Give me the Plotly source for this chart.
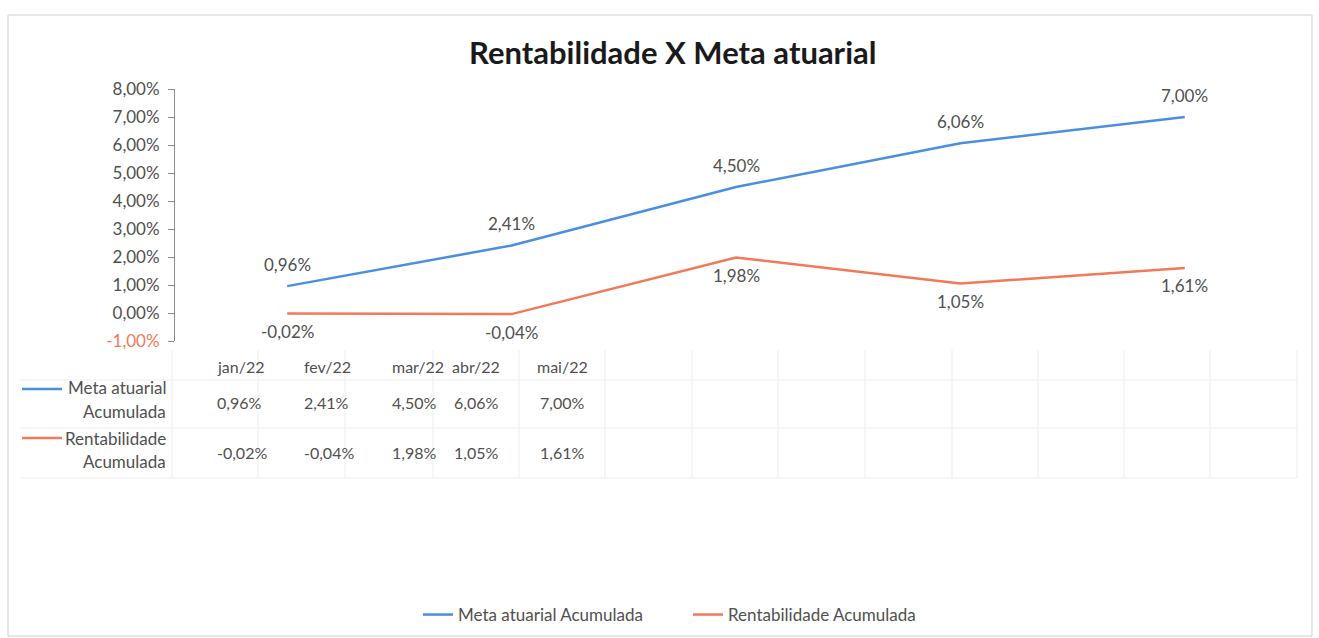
import plotly.graph_objects as go

months = ["jan/22", "fev/22", "mar/22", "abr/22", "mai/22"]
meta = [0.96, 2.41, 4.50, 6.06, 7.00]          # Meta atuarial Acumulada (%)
rent = [-0.02, -0.04, 1.98, 1.05, 1.61]         # Rentabilidade Acumulada (%)
series_names = ["Meta atuarial Acumulada", "Rentabilidade Acumulada"]
ytick_vals = [-1, 0, 1, 2, 3, 4, 5, 6, 7, 8]

W, H = 1319, 638
BLUE = "#4a8fdf"
ORANGE = "#f2785a"
TXT = "#505050"
FONT = "Lato"
FS = 17
FST = 16

def px(x):
    return x / W

def py(y):
    return 1 - y / H

def fmt(v):
    return f"{v:.2f}".replace(".", ",") + "%"

fig = go.Figure()
fig.add_trace(go.Scatter(x=months, y=meta, mode="lines", name=series_names[0],
                         line=dict(color=BLUE, width=2.5)))
fig.add_trace(go.Scatter(x=months, y=rent, mode="lines", name=series_names[1],
                         line=dict(color=ORANGE, width=2.5)))

ann = []
# data labels
for m, v in zip(months, meta):
    ann.append(dict(x=m, y=v, xref="x", yref="y", text=fmt(v), showarrow=False,
                    yshift=22, font=dict(size=FS, color=TXT, family=FONT)))
for m, v in zip(months, rent):
    ann.append(dict(x=m, y=v, xref="x", yref="y", text=fmt(v), showarrow=False,
                    yshift=-18, font=dict(size=FS, color=TXT, family=FONT)))

# title
ann.append(dict(x=px(673), y=py(52), xref="paper", yref="paper", yanchor="middle",
                text="<b>Rentabilidade X Meta atuarial</b>", showarrow=False,
                font=dict(size=31, color="#1a1a1a", family=FONT)))

# table
col_x = [215, 302, 390, 476, 562]
for cx, m in zip(col_x, months):
    ann.append(dict(x=px(cx), y=py(366), xref="paper", yref="paper", text=m,
                    yanchor="middle", showarrow=False,
                    font=dict(size=FST, color=TXT, family=FONT)))
for cx, v in zip(col_x, meta):
    ann.append(dict(x=px(cx), y=py(402), xref="paper", yref="paper", text=fmt(v),
                    yanchor="middle", showarrow=False,
                    font=dict(size=FST, color=TXT, family=FONT)))
for cx, v in zip(col_x, rent):
    ann.append(dict(x=px(cx), y=py(452), xref="paper", yref="paper", text=fmt(v),
                    yanchor="middle", showarrow=False,
                    font=dict(size=FST, color=TXT, family=FONT)))

row_labels = [("Meta atuarial", 388), ("Acumulada", 411),
              ("Rentabilidade", 438), ("Acumulada", 461)]
for t, yy in row_labels:
    ann.append(dict(x=px(168), y=py(yy), xref="paper", yref="paper", text=t,
                    xanchor="right", yanchor="middle", showarrow=False,
                    font=dict(size=FS, color=TXT, family=FONT)))

shapes = []
# outer border
shapes.append(dict(type="rect", xref="paper", yref="paper", x0=px(8), x1=px(1312),
                   y0=py(636), y1=py(15), line=dict(color="#d0d0d0", width=1)))
# table legend keys
shapes.append(dict(type="line", xref="paper", yref="paper", x0=px(22), x1=px(62),
                   y0=py(389), y1=py(389), line=dict(color=BLUE, width=2.5)))
shapes.append(dict(type="line", xref="paper", yref="paper", x0=px(22), x1=px(62),
                   y0=py(438), y1=py(438), line=dict(color=ORANGE, width=2.5)))
# table grid (faint)
GRID = "#ededed"
for xx in [172, 258, 345, 433, 519, 605, 692, 778, 865, 952, 1038, 1124, 1210, 1297]:
    shapes.append(dict(type="line", xref="paper", yref="paper", x0=px(xx), x1=px(xx),
                       y0=py(350), y1=py(478), line=dict(color=GRID, width=1)))
for yy in [380, 428, 478]:
    shapes.append(dict(type="line", xref="paper", yref="paper", x0=px(20), x1=px(1297),
                       y0=py(yy), y1=py(yy), line=dict(color=GRID, width=1)))

ticktext = []
for v in ytick_vals:
    s = fmt(v)
    if v < 0:
        s = f"<span style='color:{ORANGE}'>{s}</span>"
    ticktext.append(s)

fig.update_layout(
    width=W, height=H,
    margin=dict(l=0, r=0, t=0, b=0, autoexpand=False),
    paper_bgcolor="white", plot_bgcolor="white",
    font=dict(family=FONT, color=TXT, size=FS),
    xaxis=dict(domain=[px(175), px(1297)], range=[-0.5, 4.5], showticklabels=False,
               showgrid=False, zeroline=False, showline=False, ticks=""),
    yaxis=dict(domain=[py(341), py(89)], range=[-1, 8], tickvals=ytick_vals,
               ticktext=ticktext, showgrid=False, zeroline=False,
               showline=True, linecolor="#8c8c8c", linewidth=1,
               ticks="outside", ticklen=6, tickcolor="#8c8c8c",
               ticklabelstandoff=5,
               tickfont=dict(size=FS, color=TXT, family=FONT)),
    showlegend=True,
    legend=dict(orientation="h", x=px(418), xanchor="left", y=py(615),
                yanchor="middle", font=dict(size=FS, color=TXT, family=FONT),
                entrywidth=225, entrywidthmode="pixels",
                bgcolor="rgba(0,0,0,0)"),
    annotations=ann, shapes=shapes,
)

fig.write_html("out.html", config={"displayModeBar": False},
               post_script="document.body.style.margin='0';document.body.style.overflow='hidden';")
